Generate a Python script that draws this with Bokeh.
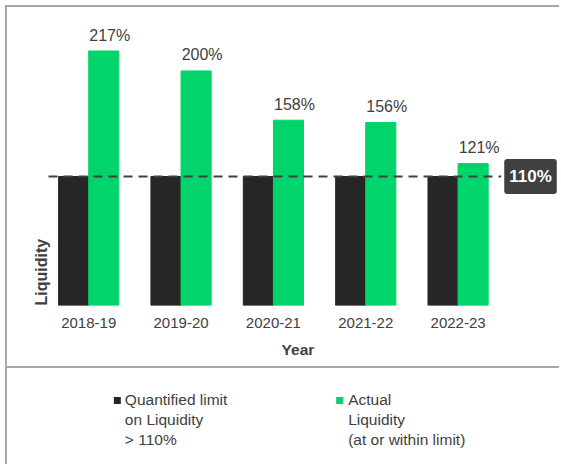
import math
from bokeh.plotting import figure
from bokeh.models import Range1d, FixedTicker, Label, ColumnDataSource
from bokeh.layouts import column
from bokeh.core.properties import value
from bokeh.embed import file_html
from bokeh.resources import INLINE

# ---- data ----
years = ["2018-19", "2019-20", "2020-21", "2021-22", "2022-23"]
limit = [110, 110, 110, 110, 110]
actual = [217, 200, 158, 156, 121]
limit_label = "110%"
series = ["Quantified limit\non Liquidity\n > 110%",
          "Actual\nLiquidity\n(at or within limit)"]
colors = ["#262626", "#00d46a"]
x_title = "Year"
y_title = "Liquidity"

FONT = value("Liberation Sans")
TXT = "#404040"
BORDER = "2px solid #a6a6a6"

idx = list(range(len(years)))
BW = 0.326
src = ColumnDataSource(dict(
    x_lim=[i - BW / 2 for i in idx],
    x_act=[i + BW / 2 for i in idx],
    limit=limit,
    actual=actual,
    lab=[f"{v}%" for v in actual],
))

W = 554
p = figure(width=W, height=363,
           x_range=Range1d(-0.587, 5.120), y_range=Range1d(0, 254.1),
           output_backend="svg", toolbar_location=None,
           y_axis_location=None,
           min_border_left=27, min_border_right=0,
           min_border_top=0, min_border_bottom=65)
p.outline_line_color = None
p.xgrid.visible = False
p.ygrid.visible = False

p.vbar(x="x_lim", top="limit", bottom=0, width=BW, color=colors[0], source=src)
p.vbar(x="x_act", top="actual", bottom=0, width=BW, color=colors[1], source=src)

p.segment(x0=[-0.435], y0=[limit[0]], x1=[len(years) - 1 + 0.467], y1=[limit[-1]],
          line_color=TXT, line_width=2, line_dash="9 6")

p.text(x="x_act", y="actual", text="lab", source=src,
       x_offset=6, y_offset=-16, text_align="center", text_baseline="middle",
       text_font=FONT, text_font_size="16px", text_color=TXT)

p.add_layout(Label(x=len(years) - 1 + 0.5, y=limit[0], text=limit_label,
                   text_align="left", text_baseline="middle",
                   text_color="white", text_font="Liberation Sans",
                   text_font_style="bold", text_font_size="17px",
                   background_fill_color=TXT, border_radius=3, padding=(5, 8)))

p.add_layout(Label(x=-0.511, y=0, text=y_title, angle=math.pi / 2,
                   text_align="left", text_baseline="middle",
                   text_color=TXT, text_font="Liberation Sans",
                   text_font_style="bold", text_font_size="16px"))

ax = p.xaxis[0]
ax.ticker = FixedTicker(ticks=idx)
ax.major_label_overrides = {i: y for i, y in zip(idx, years)}
ax.axis_line_color = None
ax.major_tick_line_color = None
ax.minor_tick_line_color = None
ax.major_tick_out = 0
ax.major_tick_in = 0
ax.major_label_standoff = 12
ax.major_label_text_font = "Liberation Sans"
ax.major_label_text_font_size = "15px"
ax.major_label_text_color = TXT
ax.axis_label = x_title
ax.axis_label_standoff = 10
ax.axis_label_text_font = "Liberation Sans"
ax.axis_label_text_font_style = "bold"
ax.axis_label_text_font_size = "15.5px"
ax.axis_label_text_color = TXT
p.styles = {"border-top": BORDER, "border-left": BORDER, "border-bottom": BORDER}

# ---- legend panel (frame is aligned with the chart frame by the column) ----
H2 = 96
q = figure(width=W, height=H2, x_range=Range1d(34, 559), y_range=Range1d(H2, 0),
           output_backend="svg", toolbar_location=None,
           x_axis_location=None, y_axis_location=None,
           min_border=0)
q.outline_line_color = None
q.xgrid.visible = False
q.ygrid.visible = False
q.scatter(x=[116.5, 338], y=[32, 32], marker="square", size=7,
          color=colors, line_color=None)
q.text(x=[124, 346.5], y=[22, 22], text=series,
       text_align="left", text_baseline="top", text_line_height=1.18,
       text_font=FONT, text_font_size="15.5px", text_color=TXT)
q.styles = {"border-left": BORDER}

layout = column(p, q, margin=(5, 0, 0, 5))
open("out.html", "w").write(file_html(layout, INLINE))
